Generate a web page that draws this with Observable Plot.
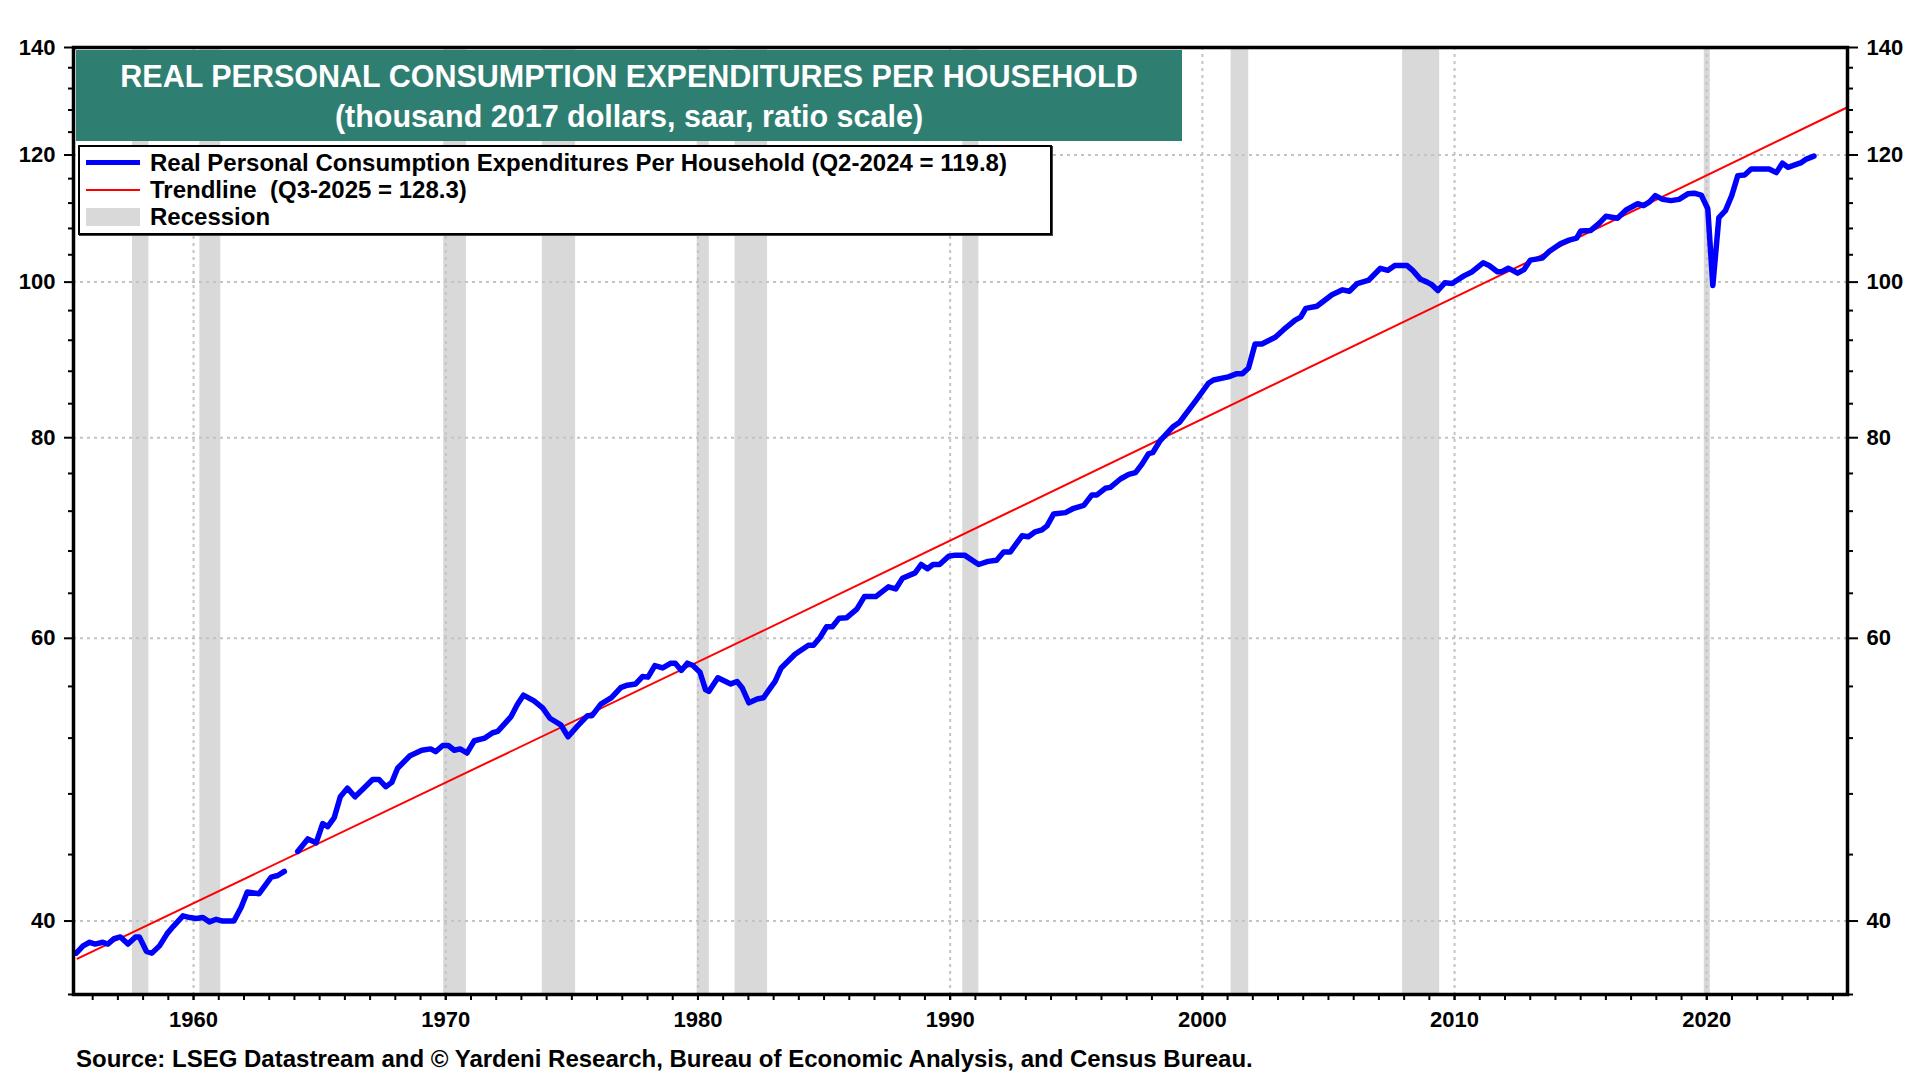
<!DOCTYPE html>
<html>
<head>
<meta charset="utf-8">
<script src="https://cdn.jsdelivr.net/npm/d3@7"></script>
<script src="https://cdn.jsdelivr.net/npm/@observablehq/plot@0.6"></script>
<style>
  html, body { margin: 0; padding: 0; background: #fff; }
  #wrap { position: relative; width: 1920px; height: 1080px; font-family: "Liberation Sans", Arial, sans-serif; font-weight: bold; color: #000; }
  #chart { position: absolute; left: 0; top: 0; }
  #titlebox { position: absolute; left: 76px; top: 50px; width: 1106px; height: 91px; background: #2f7e72; color: #fff; text-align: center; font-size: 30.5px; line-height: 40px; padding-top: 6px; box-sizing: border-box; }
  #legend { position: absolute; left: 78px; top: 145px; width: 974px; height: 90px; border: 2.5px solid #000; background: #fff; box-sizing: border-box; box-shadow: 1px 1px 0 #444; }
  .lrow { position: absolute; left: 0; height: 27px; display: flex; align-items: center; font-size: 24px; white-space: pre; }
  .sw { width: 54px; margin-left: 6px; margin-right: 10px; }
  #source { position: absolute; left: 76px; top: 1045px; font-size: 24px; line-height: 28px; white-space: pre; }
</style>
</head>
<body>
<div id="wrap">
  <div id="chart"></div>
  <div id="titlebox"></div>
  <div id="legend"></div>
  <div id="source"></div>
</div>
<script>
// ---------- Data ----------
const titleLines = ["REAL PERSONAL CONSUMPTION EXPENDITURES PER HOUSEHOLD", "(thousand 2017 dollars, saar, ratio scale)"];
const legendLabels = ["Real Personal Consumption Expenditures Per Household (Q2-2024 = 119.8)", "Trendline  (Q3-2025 = 128.3)", "Recession"];
const sourceText = "Source: LSEG Datastream and \u00A9 Yardeni Research, Bureau of Economic Analysis, and Census Bureau.";

const pceYears = [
  1955.35,1955.62,1955.88,1956.1,1956.4,1956.6,1956.85,1957.1,1957.4,1957.7,1957.85,1958.13,1958.35,1958.65,1958.96,
  1959.2,1959.58,1959.85,1960.1,1960.37,1960.63,1960.9,1961.15,1961.6,1961.89,1962.13,1962.6,1963.08,1963.34,1963.6,
  1963.85,
  1964.13,1964.53,1964.86,1965.12,1965.32,1965.58,1965.82,1966.1,1966.4,1966.7,1967.1,1967.36,1967.62,1967.86,1968.09,
  1968.58,1969.05,1969.4,1969.6,1969.88,1970.1,1970.34,1970.57,1970.84,1971.13,1971.55,1971.86,1972.06,1972.58,1972.85,
  1973.08,1973.5,1973.84,1974.13,1974.56,1974.85,1975.22,1975.62,1975.8,1976.15,1976.57,1976.94,1977.2,1977.53,1977.8,
  1978.02,1978.29,1978.6,1978.93,1979.1,1979.34,1979.58,1979.8,1980.08,1980.3,1980.43,1980.79,1981.3,1981.55,1981.75,
  1982.02,1982.35,1982.6,1982.88,1983.06,1983.3,1983.85,1984.38,1984.58,1984.84,1985.1,1985.33,1985.6,1985.9,1986.3,
  1986.6,1987.05,1987.55,1987.84,1988.11,1988.61,1988.85,1989.1,1989.32,1989.58,1989.94,1990.2,1990.57,1991.13,1991.5,
  1991.84,1992.12,1992.38,1992.85,1993.1,1993.37,1993.64,1993.84,1994.1,1994.57,1994.9,1995.3,1995.62,1995.82,1996.15,
  1996.35,1996.75,1997.08,1997.35,1997.6,1997.87,1998.03,1998.31,1998.85,1999.1,1999.77,2000.24,2000.44,2001.03,2001.37,
  2001.59,2001.83,2002.09,2002.36,2002.89,2003.22,2003.68,2003.9,2004.1,2004.54,2005.14,2005.56,2005.83,2006.14,2006.6,
  2007.06,2007.36,2007.63,2008.12,2008.34,2008.65,2008.91,2009.11,2009.34,2009.61,2009.9,2010.37,2010.7,2011.13,2011.37,
  2011.7,2011.87,2012.13,2012.3,2012.5,2012.75,2013.0,2013.48,2013.75,2014.21,2014.54,2014.84,2015.0,2015.4,2015.73,
  2016.0,2016.46,2016.8,2017.26,2017.49,2017.73,2017.96,2018.25,2018.58,2018.9,2019.25,2019.5,2019.78,2020.04,2020.24,
  2020.48,2020.74,2020.99,2021.23,2021.5,2021.76,2022.1,2022.47,2022.76,2023.0,2023.22,2023.49,2023.75,2023.95,2024.25
];
const pceValues = [
  38.2,38.6,38.8,38.7,38.8,38.7,39.0,39.1,38.7,39.1,39.1,38.3,38.2,38.6,39.3,
  39.7,40.3,40.2,40.15,40.2,39.95,40.1,40.0,40.0,40.8,41.7,41.6,42.6,42.7,42.95,
  NaN,
  44.2,45.0,44.75,46.0,45.8,46.4,47.8,48.4,47.8,48.3,49.0,49.0,48.5,48.8,49.8,
  50.7,51.1,51.2,51.0,51.45,51.45,51.1,51.2,50.9,51.8,52.0,52.4,52.5,53.6,54.6,
  55.3,54.85,54.3,53.5,53.0,52.1,52.9,53.7,53.7,54.6,55.1,55.9,56.1,56.2,56.8,
  56.75,57.7,57.5,57.9,57.9,57.3,57.9,57.7,57.15,55.75,55.6,56.7,56.2,56.4,55.9,
  54.7,55.0,55.1,55.9,56.4,57.5,58.65,59.4,59.4,60.07,61.0,61.0,61.76,61.8,62.56,
  63.7,63.7,64.6,64.4,65.4,65.9,66.7,66.3,66.7,66.7,67.5,67.6,67.6,66.7,67.0,
  67.1,67.9,67.9,69.5,69.4,69.9,70.1,70.5,71.7,71.85,72.3,72.6,73.7,73.7,74.4,
  74.5,75.4,75.9,76.1,77.0,78.2,78.3,79.6,81.3,81.8,84.5,86.5,86.9,87.3,87.7,
  87.7,88.4,91.5,91.5,92.4,93.4,94.7,95.1,96.3,96.6,98.2,98.9,98.7,99.8,100.3,
  102.0,101.7,102.4,102.4,101.7,100.4,100.0,99.6,98.8,99.9,99.8,100.9,101.5,102.8,102.4,
  101.5,101.5,102.0,101.7,101.3,101.8,103.2,103.5,104.5,105.7,106.2,106.5,107.6,107.7,108.8,
  109.9,109.6,110.9,111.9,111.6,112.2,113.2,112.6,112.4,112.6,113.5,113.6,113.3,111.1,99.5,
  109.7,110.8,113.2,116.5,116.6,117.6,117.6,117.6,117.0,118.6,117.9,118.3,118.7,119.3,119.8
];

const trendYears = [1955.4, 1982.53, 2011.76, 2025.58];
const trendValues = [37.9, 60.6, 100.9, 128.5];

const recessionStarts = [1957.58, 1960.25, 1969.92, 1973.83, 1979.97, 1981.47, 1990.5, 2001.14, 2007.94, 2019.9];
const recessionEnds   = [1958.23, 1961.08, 1970.82, 1975.15, 1980.45, 1982.76, 1991.14, 2001.84, 2009.41, 2020.14];

const xTickLabels = [1960, 1970, 1980, 1990, 2000, 2010, 2020];
const xMinorTicks = d3.range(1956, 2026);
const yTickLabels = [40, 60, 80, 100, 120, 140];
const yMinorTicks = [36, 44, 48, 52, 56, 64, 68, 72, 76, 84, 88, 92, 96, 104, 108, 112, 116, 124, 128, 132, 136];
const yGridValues = [40, 60, 80, 100, 120];

// ---------- Build tables ----------
const pce = pceYears.map((x, i) => ({x, y: pceValues[i]}));
const trend = trendYears.map((x, i) => ({x, y: trendValues[i]}));
const recessions = recessionStarts.map((s, i) => ({start: s, end: recessionEnds[i]}));

const font = "'Liberation Sans', Arial, sans-serif";
const gridStyle = {stroke: "#c4c4c4", strokeOpacity: 1, strokeWidth: 2, strokeDasharray: "3,4"};

const chart = Plot.plot({
  width: 1920,
  height: 1040,
  marginLeft: 73,
  marginRight: 73,
  marginTop: 47,
  marginBottom: 46,
  x: {domain: [1955.24, 2025.58]},
  y: {type: "log", domain: [36, 140]},
  style: {fontFamily: font, fontWeight: "bold", fontSize: "22px", color: "#000", background: "#fff", overflow: "visible"},
  marks: [
    Plot.rect(recessions, {x1: "start", x2: "end", fill: "#d9d9d9"}),
    Plot.gridX(xTickLabels, gridStyle),
    Plot.gridY(yGridValues, gridStyle),
    Plot.line(trend, {x: "x", y: "y", stroke: "#ff0000", strokeWidth: 2}),
    Plot.line(pce, {x: "x", y: "y", stroke: "#0000ff", strokeWidth: 5.5, strokeLinejoin: "round", strokeLinecap: "round"}),
    Plot.axisX(xMinorTicks, {tickSize: 6, strokeWidth: 2, tickFormat: () => "", label: null}),
    Plot.axisX(xTickLabels, {tickSize: 6, strokeWidth: 2, tickPadding: 11, tickFormat: d => String(d), fontSize: 22, fontWeight: "bold", label: null}),
    Plot.axisY(yMinorTicks, {anchor: "left", tickSize: 5, strokeWidth: 2, tickFormat: () => "", label: null}),
    Plot.axisY(yTickLabels, {anchor: "left", tickSize: 9, strokeWidth: 2, tickPadding: 9, tickFormat: d => String(d), fontSize: 22, fontWeight: "bold", label: null}),
    Plot.axisY(yMinorTicks, {anchor: "right", tickSize: 5, strokeWidth: 2, tickFormat: () => "", label: null}),
    Plot.axisY(yTickLabels, {anchor: "right", tickSize: 10, strokeWidth: 2, tickPadding: 9, tickFormat: d => String(d), fontSize: 22, fontWeight: "bold", label: null}),
    Plot.frame({stroke: "#000", strokeWidth: 3.5})
  ]
});
document.getElementById("chart").appendChild(chart);

// ---------- Title, legend, source ----------
const tb = document.getElementById("titlebox");
titleLines.forEach(t => { const d = document.createElement("div"); d.textContent = t; tb.appendChild(d); });

const lg = document.getElementById("legend");
const swatches = [
  {h: 5, c: "#0000ff"},
  {h: 2, c: "#ff0000"},
  {h: 18, c: "#d9d9d9"}
];
legendLabels.forEach((t, i) => {
  const row = document.createElement("div");
  row.className = "lrow";
  row.style.top = (2 + i * 27) + "px";
  const sw = document.createElement("div");
  sw.className = "sw";
  sw.style.height = swatches[i].h + "px";
  sw.style.background = swatches[i].c;
  const tx = document.createElement("span");
  tx.textContent = t;
  row.appendChild(sw);
  row.appendChild(tx);
  lg.appendChild(row);
});
document.getElementById("source").textContent = sourceText;
</script>
</body>
</html>
